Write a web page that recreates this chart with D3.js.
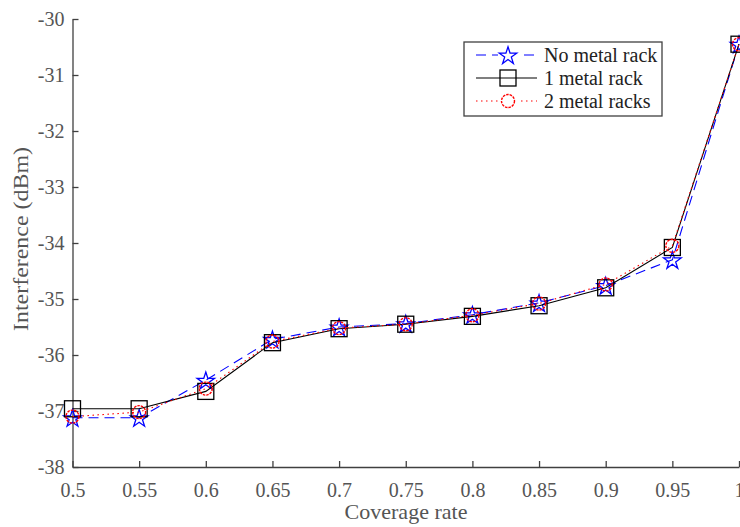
<!DOCTYPE html>
<html><head><meta charset="utf-8">
<script src="https://cdn.jsdelivr.net/npm/d3@7"></script>
<style>body{margin:0;background:#fff}svg{display:block}</style>
</head><body>
<svg id="c" width="740" height="527"></svg>
<script>
const coverage = [0.5,0.55,0.6,0.65,0.7,0.75,0.8,0.85,0.9,0.95,1];
const noRack  = [-37.12,-37.12,-36.45,-35.72,-35.50,-35.44,-35.28,-35.07,-34.76,-34.30,-30.45];
const oneRack = [-36.96,-36.96,-36.65,-35.78,-35.53,-35.45,-35.31,-35.12,-34.80,-34.08,-30.45];
const twoRack = [-37.10,-37.02,-36.60,-35.76,-35.52,-35.45,-35.29,-35.08,-34.74,-34.05,-30.45];
const xTicks = [0.5,0.55,0.6,0.65,0.7,0.75,0.8,0.85,0.9,0.95,1];
const yTicks = [-38,-37,-36,-35,-34,-33,-32,-31,-30];
const seriesNames = ["No metal rack","1 metal rack","2 metal racks"];

const svg = d3.select("#c");
const x = d3.scaleLinear().domain([0.5,1]).range([72.5,739]);
const y = d3.scaleLinear().domain([-38,-30]).range([467,19]);
const axisColor = "#404040";
const font = "Liberation Serif, Times New Roman, serif";

const xa = svg.append("g").attr("transform","translate(0,467)")
  .call(d3.axisBottom(x).tickValues(xTicks).tickSize(-6).tickSizeOuter(0).tickPadding(16).tickFormat(d=>String(d)));
const ya = svg.append("g").attr("transform","translate(72.5,0)")
  .call(d3.axisLeft(y).tickValues(yTicks).tickSize(-6).tickSizeOuter(0).tickPadding(8).tickFormat(d=>String(d)));
[xa,ya].forEach(a=>{
  a.selectAll("path,line").attr("stroke",axisColor).attr("stroke-width",1.3);
  a.selectAll("text").attr("fill","#555").style("font-family",font).style("font-size","20px");
});

svg.append("text").attr("x",406).attr("y",519).attr("text-anchor","middle")
  .attr("fill","#555").style("font-family",font).style("font-size","21px")
  .attr("textLength",123).attr("lengthAdjust","spacingAndGlyphs").text("Coverage rate");
svg.append("text").attr("transform","translate(28,239) rotate(-90)").attr("text-anchor","middle")
  .attr("fill","#555").style("font-family",font).style("font-size","21px")
  .attr("textLength",184).attr("lengthAdjust","spacingAndGlyphs").text("Interference (dBm)");

const starPath = d3.symbol().type(d3.symbolStar).size(95)();
const sqSize = 16;

const styles = [
  {vals:noRack, color:"#0000ff", dash:"10,6", marker:"star"},
  {vals:oneRack, color:"#000000", dash:null, marker:"square"},
  {vals:twoRack, color:"#ff0000", dash:"1.5,3.5", marker:"circle"}
];
const line = d3.line().x(d=>x(d[0])).y(d=>y(d[1]));

function drawMarker(g, type, cx, cy, color){
  if(type==="star"){
    g.append("path").attr("d",starPath).attr("transform",`translate(${cx},${cy+1})`)
      .attr("fill","none").attr("stroke",color).attr("stroke-width",1.3);
  } else if(type==="square"){
    g.append("rect").attr("x",cx-sqSize/2).attr("y",cy-sqSize/2).attr("width",sqSize).attr("height",sqSize)
      .attr("fill","none").attr("stroke",color).attr("stroke-width",1.3);
  } else {
    g.append("circle").attr("cx",cx).attr("cy",cy).attr("r",6.5)
      .attr("fill","none").attr("stroke",color).attr("stroke-width",1.4).attr("stroke-dasharray","2.5,1");
  }
}

styles.forEach(s=>{
  const g = svg.append("g");
  const pts = coverage.map((c,i)=>[c,s.vals[i]]);
  g.append("path").attr("d",line(pts)).attr("fill","none").attr("stroke",s.color)
    .attr("stroke-width",1.1).attr("stroke-dasharray",s.dash);
  pts.forEach(p=>drawMarker(g,s.marker,x(p[0]),y(p[1]),s.color));
});

// legend
const lg = svg.append("g");
lg.append("rect").attr("x",464).attr("y",42).attr("width",198).attr("height",74)
  .attr("fill","#fff").attr("stroke",axisColor).attr("stroke-width",1.3);
const ly = [55,78,101];
styles.forEach((s,i)=>{
  lg.append("line").attr("x1",476).attr("x2",537).attr("y1",ly[i]).attr("y2",ly[i])
    .attr("stroke",s.color).attr("stroke-width",1.1).attr("stroke-dasharray",s.dash);
  if(s.marker!=="square"){
    lg.append("rect").attr("x",498).attr("y",ly[i]-9).attr("width",20).attr("height",18).attr("fill","#fff");
  }
  drawMarker(lg,s.marker,508,ly[i],s.color);
  lg.append("text").attr("x",544).attr("y",ly[i]+6.5).attr("fill","#222")
    .style("font-family",font).style("font-size","20px").text(seriesNames[i]);
});
</script>
</body></html>
